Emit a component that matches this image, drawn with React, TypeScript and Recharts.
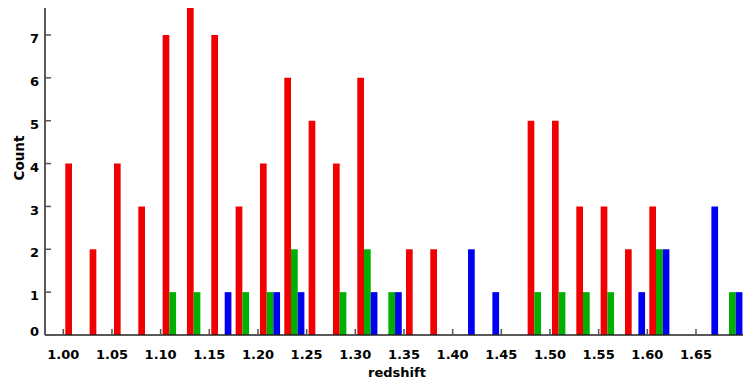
import React from 'react';
import { BarChart, Bar, XAxis, YAxis } from 'recharts';

const binCenters = [
  1.0125, 1.0375, 1.0625, 1.0875, 1.1125, 1.1375, 1.1625, 1.1875, 1.2125, 1.2375,
  1.2625, 1.2875, 1.3125, 1.3375, 1.3625, 1.3875, 1.4125, 1.4375, 1.4625, 1.4875,
  1.5125, 1.5375, 1.5625, 1.5875, 1.6125, 1.6375, 1.6625, 1.6875,
];
const redCounts = [4, 2, 4, 3, 7, 8, 7, 3, 4, 6, 5, 4, 6, 0, 2, 2, 0, 0, 0, 5, 5, 3, 3, 2, 3, 0, 0, 0];
const greenCounts = [0, 0, 0, 0, 1, 1, 0, 1, 1, 2, 0, 1, 2, 1, 0, 0, 0, 0, 0, 1, 1, 1, 1, 0, 2, 0, 0, 1];
const blueCounts = [0, 0, 0, 0, 0, 0, 1, 0, 1, 1, 0, 0, 1, 1, 0, 0, 2, 1, 0, 0, 0, 0, 0, 1, 2, 0, 3, 1];
const xTicks = [1.0, 1.05, 1.1, 1.15, 1.2, 1.25, 1.3, 1.35, 1.4, 1.45, 1.5, 1.55, 1.6, 1.65];
const yTicks = [0, 1, 2, 3, 4, 5, 6, 7];
const xLabel = 'redshift';
const yLabel = 'Count';

const data = binCenters.map((z, i) => ({
  z,
  red: redCounts[i],
  green: greenCounts[i],
  blue: blueCounts[i],
}));

const FONT = '"DejaVu Sans", sans-serif';
const X_DOMAIN: [number, number] = [0.9812, 1.6983];
const Y_DOMAIN: [number, number] = [0, 7.63];
const AXIS_LINE = { stroke: '#222', strokeWidth: 1.5 };
const TICK_LINE = { stroke: '#555', strokeWidth: 1.5 };

const YTick = (props: any) => {
  const { x, y, payload } = props;
  const shift = payload.value === 0 ? -3.3 : 3.4;
  return (
    <text
      x={x}
      y={y + shift}
      dy="0.36em"
      textAnchor="end"
      fontFamily={FONT}
      fontWeight="bold"
      fontSize={13}
      fill="#000"
    >
      {payload.value}
    </text>
  );
};

const XLabelContent = (props: any) => {
  const vb = props.viewBox || { x: 45, y: 335, width: 698, height: 30 };
  return (
    <text
      x={vb.x + vb.width / 2 + 3}
      y={vb.y + 42}
      textAnchor="middle"
      fontFamily={FONT}
      fontWeight="bold"
      fontSize={13}
      fill="#000"
    >
      {xLabel}
    </text>
  );
};

const YLabelContent = (props: any) => {
  const vb = props.viewBox || { x: 0, y: 8, width: 45, height: 327 };
  const cx = vb.x + 24;
  const cy = vb.y + vb.height / 2 - 13.5;
  return (
    <text
      x={cx}
      y={cy}
      transform={`rotate(-90, ${cx}, ${cy})`}
      textAnchor="middle"
      fontFamily={FONT}
      fontWeight="bold"
      fontSize={13.5}
      fill="#000"
    >
      {yLabel}
    </text>
  );
};

export default function App() {
  return (
    <div style={{ position: 'absolute', left: 0, top: 0, width: 743, height: 381, background: '#fff' }}>
      <BarChart
        width={743}
        height={381}
        data={data}
        margin={{ top: 8, right: 0, bottom: 16, left: 0 }}
        barGap={0}
      >
        <XAxis
          xAxisId="b"
          dataKey="z"
          type="number"
          domain={X_DOMAIN}
          allowDataOverflow
          ticks={xTicks}
          interval={0}
          tickFormatter={(v: number) => v.toFixed(2)}
          height={30}
          tickSize={-6}
          tickMargin={21}
          axisLine={AXIS_LINE}
          tickLine={TICK_LINE}
          tick={{ fontFamily: FONT, fontWeight: 'bold', fontSize: 13, fill: '#000' }}
          label={{ content: XLabelContent }}
        />
        <XAxis
          xAxisId="t"
          dataKey="z"
          orientation="top"
          type="number"
          domain={X_DOMAIN}
          allowDataOverflow
          ticks={xTicks}
          interval={0}
          height={0}
          tickSize={-6}
          axisLine={AXIS_LINE}
          tickLine={TICK_LINE}
          tick={false}
        />
        <YAxis
          yAxisId="l"
          type="number"
          domain={Y_DOMAIN}
          allowDataOverflow
          ticks={yTicks}
          interval={0}
          width={45}
          tickSize={-6}
          tickMargin={12}
          axisLine={AXIS_LINE}
          tickLine={TICK_LINE}
          tick={<YTick />}
          label={{ content: YLabelContent }}
        />
        <YAxis
          yAxisId="r"
          orientation="right"
          type="number"
          domain={Y_DOMAIN}
          allowDataOverflow
          ticks={yTicks}
          interval={0}
          width={0}
          tickSize={-6}
          axisLine={AXIS_LINE}
          tickLine={TICK_LINE}
          tick={false}
        />
        <Bar xAxisId="b" yAxisId="l" dataKey="red" fill="#f00000" barSize={6.7} isAnimationActive={false} />
        <Bar xAxisId="b" yAxisId="l" dataKey="green" fill="#00b000" barSize={6.7} isAnimationActive={false} />
        <Bar xAxisId="b" yAxisId="l" dataKey="blue" fill="#0000f0" barSize={6.7} isAnimationActive={false} />
      </BarChart>
    </div>
  );
}
